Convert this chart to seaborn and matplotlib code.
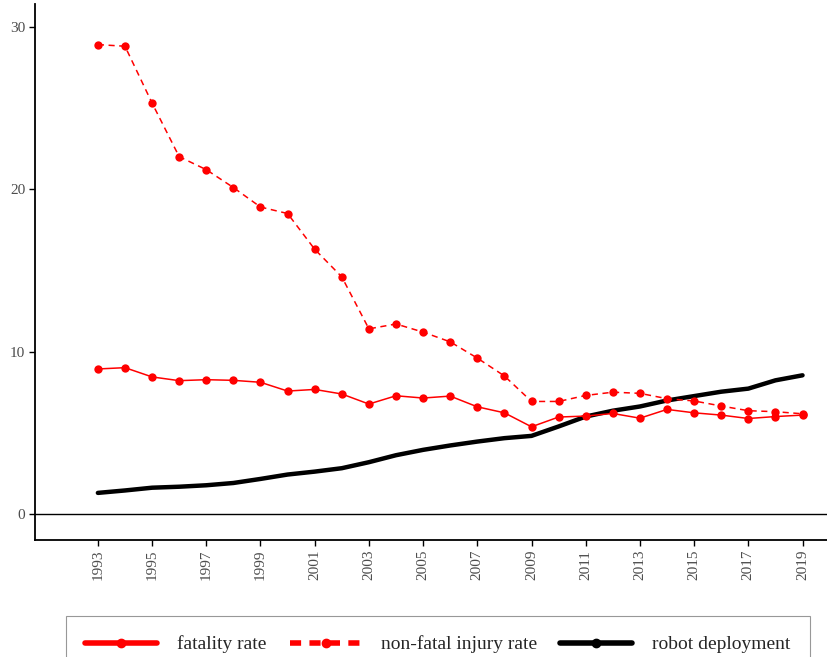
import pandas as pd
import matplotlib.pyplot as plt
import seaborn as sns
from matplotlib.lines import Line2D

years = list(range(1993, 2020))
fatality = [8.93, 9.01, 8.44, 8.21, 8.27, 8.23, 8.11, 7.57, 7.67, 7.39, 6.77, 7.28, 7.14,
            7.26, 6.60, 6.23, 5.37, 5.97, 6.03, 6.19, 5.90, 6.44, 6.23, 6.09, 5.88, 6.00, 6.09]
nonfatal = [28.9, 28.8, 25.3, 22.0, 21.2, 20.1, 18.9, 18.5, 16.3, 14.6, 11.4, 11.7, 11.2,
            10.6, 9.6, 8.5, 6.93, 6.93, 7.3, 7.5, 7.43, 7.1, 6.96, 6.65, 6.36, 6.3, 6.17]
robots = [1.30, 1.45, 1.62, 1.68, 1.77, 1.91, 2.16, 2.43, 2.61, 2.82, 3.19, 3.62, 3.95,
          4.22, 4.46, 4.67, 4.81, 5.39, 6.00, 6.36, 6.62, 6.99, 7.26, 7.53, 7.72, 8.23, 8.54]
xticks = list(range(1993, 2020, 2))

df = pd.DataFrame({"year": years, "fatality": fatality,
                   "nonfatal": nonfatal, "robots": robots})

sns.set_theme(style="white")
plt.rcParams["font.family"] = ["Liberation Serif", "DejaVu Serif"]

fig = plt.figure(figsize=(8.28, 6.57), dpi=100)
ax = fig.add_axes([35 / 828, 1 - 540 / 657, 793 / 828, 536 / 657])

red = "#ff0000"
sns.lineplot(data=df, x="year", y="robots", ax=ax, color="black", lw=3.2)
sns.lineplot(data=df, x="year", y="fatality", ax=ax, color=red, lw=1.1,
             marker="o", markersize=6, markeredgewidth=0)
sns.lineplot(data=df, x="year", y="nonfatal", ax=ax, color=red, lw=1.1,
             marker="o", markersize=6, markeredgewidth=0, dashes=False)
ax.lines[-1].set_dashes([4, 3])

ax.axhline(0, color="black", lw=1.0, zorder=0)
ax.set_xlim(1990.68, 2019.94)
ax.set_ylim(-1.6, 31.4)
ax.set_xticks(xticks)
ax.set_xticklabels([str(y) for y in xticks], rotation=90)
ax.set_yticks([0, 10, 20, 30])
ax.set_xlabel("")
ax.set_ylabel("")
ax.tick_params(axis="both", colors="#4d4d4d", labelsize=11, length=4, width=1,
               direction="out", bottom=True, left=True, pad=3)
ax.tick_params(axis="both", which="both", color="black")
for s in ["top", "right"]:
    ax.spines[s].set_visible(False)
for s in ["left", "bottom"]:
    ax.spines[s].set_color("black")
    ax.spines[s].set_linewidth(1.3)

handles = [
    Line2D([], [], color=red, lw=4, marker="o", markersize=6),
    Line2D([], [], color=red, lw=4, ls=(0, (2, 1.5)), marker="o", markersize=6),
    Line2D([], [], color="black", lw=4, marker="o", markersize=6),
]
labels = ["fatality rate", "non-fatal injury rate", "robot deployment"]
leg = fig.legend(handles, labels, loc="upper left",
                 bbox_to_anchor=(66 / 828, 1 - 616 / 657), ncol=3,
                 fontsize=14, frameon=True, fancybox=False, edgecolor="#7f7f7f",
                 handlelength=3.7, columnspacing=1.2, borderpad=1.0,
                 handletextpad=1.0, borderaxespad=0)
leg.get_frame().set_linewidth(0.8)

fig.savefig("out.png", dpi=100)
